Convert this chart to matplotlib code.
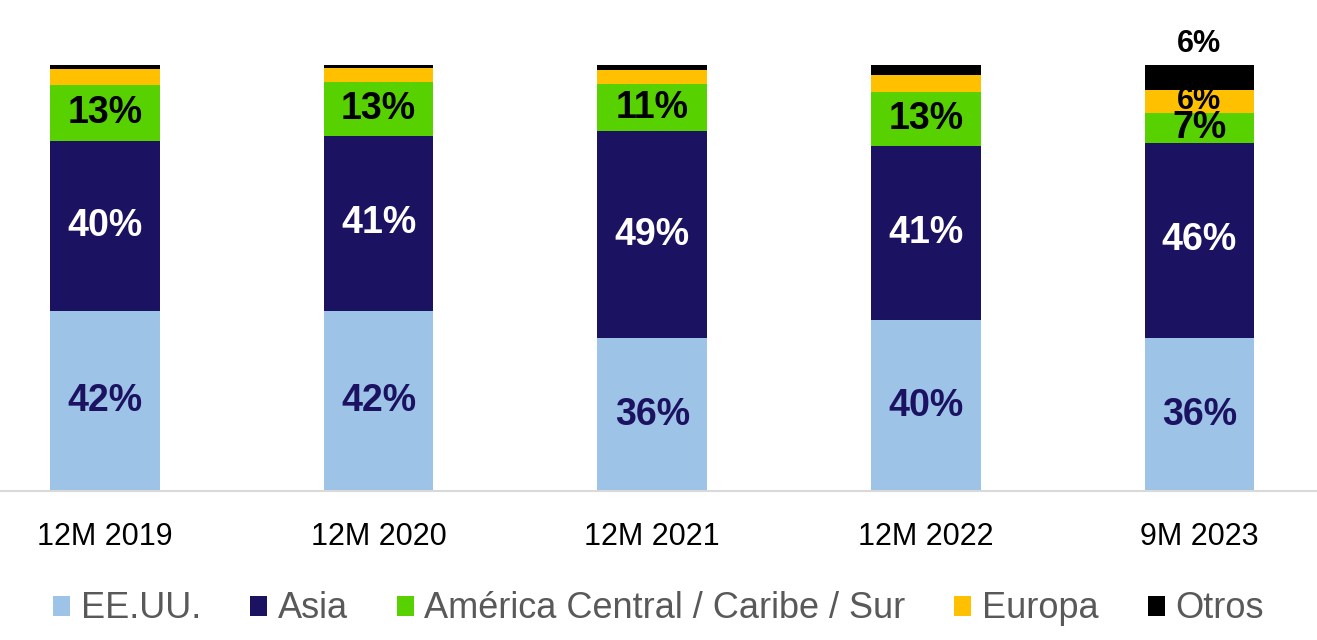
import matplotlib
matplotlib.use("Agg")
import matplotlib.pyplot as plt
import numpy as np

categories = ["12M 2019", "12M 2020", "12M 2021", "12M 2022", "9M 2023"]
series_names = ["EE.UU.", "Asia", "América Central / Caribe / Sur", "Europa", "Otros"]
eeuu = [42.3, 42.3, 35.9, 40.1, 35.9]
asia = [39.9, 41.1, 48.6, 40.8, 45.9]
america = [13.1, 12.7, 11.0, 12.8, 6.9]
europa = [3.7, 3.2, 3.3, 4.0, 5.5]
otros = [1.0, 0.8, 1.2, 2.2, 5.7]

eeuu_labels = ["42%", "42%", "36%", "40%", "36%"]
asia_labels = ["40%", "41%", "49%", "41%", "46%"]
america_labels = ["13%", "13%", "11%", "13%", "7%"]
europa_labels = ["", "", "", "", "6%"]
otros_labels = ["", "", "", "", "6%"]

colors = ["#9DC3E6", "#1C1262", "#57D200", "#FFC000", "#000000"]

plt.rcParams['font.family'] = ['Liberation Sans', 'DejaVu Sans']

fig = plt.figure(figsize=(13.17, 6.4), dpi=100)
W, H = 1317, 640
ax = fig.add_axes([0, (H - 491) / H, 1, (491 - 65) / H])

x = np.arange(len(categories))
data = [eeuu, asia, america, europa, otros]
bottom = np.zeros(len(categories))
bars = []
for vals, col, name in zip(data, colors, series_names):
    b = ax.bar(x, vals, width=0.4, bottom=bottom, color=col, label=name, linewidth=0)
    bars.append((b, bottom.copy(), np.array(vals)))
    bottom += np.array(vals)

spacing = 273.6
ax.set_xlim(-105 / spacing, (W - 105) / spacing)
ax.set_ylim(0, 100)

def put(labels, idx, color, size):
    b, bot, vals = bars[idx]
    for i, lab in enumerate(labels):
        if lab:
            ax.text(x[i], bot[i] + vals[i] / 2, lab, ha="center", va="center",
                    color=color, fontsize=size, fontweight="bold")

put(eeuu_labels, 0, "#1C1262", 27)
put(asia_labels, 1, "white", 27)
put(america_labels, 2, "black", 27)
put(europa_labels, 3, "black", 22)
for i, lab in enumerate(otros_labels):
    if lab:
        ax.text(x[i], bottom[i] + 1.4, lab, ha="center", va="bottom",
                color="black", fontsize=22, fontweight="bold")

for s in ["top", "right", "left"]:
    ax.spines[s].set_visible(False)
ax.spines["bottom"].set_color("#D9D9D9")
ax.spines["bottom"].set_linewidth(1.5)
ax.set_yticks([])
ax.set_xticks(x)
ax.set_xticklabels(categories, fontsize=22, color="black")
ax.tick_params(axis="x", length=0, pad=22)

leg = fig.legend(loc="center", bbox_to_anchor=(0.5, (H - 609) / H), ncol=5,
                 frameon=False, fontsize=26,
                 handlelength=0.47, handleheight=0.47,
                 handletextpad=0.3, columnspacing=1.35, labelcolor="#595959")

fig.savefig("out.png", dpi=100)
